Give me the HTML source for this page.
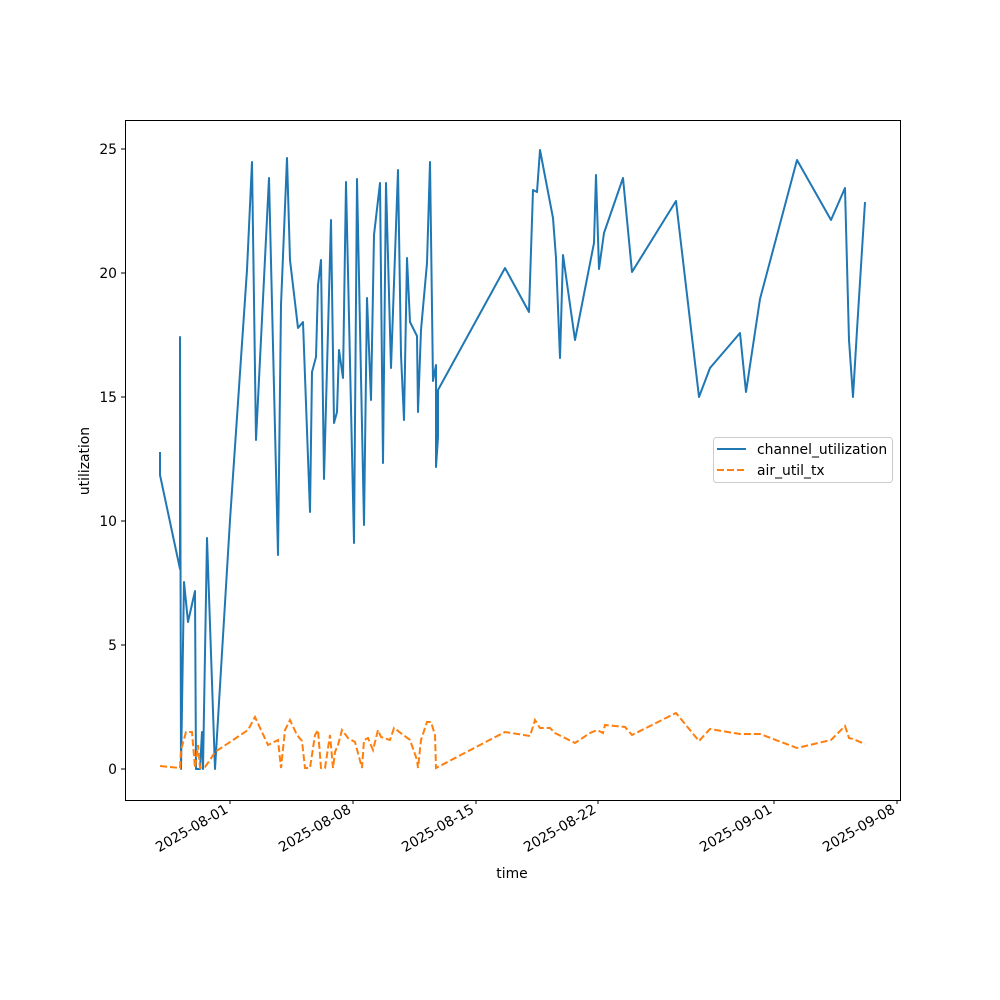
<!DOCTYPE html>
<html><head><style>body{margin:0;background:#fff}svg{display:block}text{font-family:"DejaVu Sans","Liberation Sans",sans-serif;font-size:13.9px;fill:#000}</style></head>
<body>
<svg width="1000" height="1000" xmlns="http://www.w3.org/2000/svg">
<rect width="1000" height="1000" fill="#fff"/>
<g stroke="#000" stroke-width="1">
<line x1="125" y1="769" x2="121" y2="769"/><line x1="125" y1="645" x2="121" y2="645"/><line x1="125" y1="521" x2="121" y2="521"/><line x1="125" y1="397" x2="121" y2="397"/><line x1="125" y1="273" x2="121" y2="273"/><line x1="125" y1="149" x2="121" y2="149"/>
<line x1="230" y1="800" x2="230" y2="804"/><line x1="353" y1="800" x2="353" y2="804"/><line x1="476" y1="800" x2="476" y2="804"/><line x1="598" y1="800" x2="598" y2="804"/><line x1="774" y1="800" x2="774" y2="804"/><line x1="897" y1="800" x2="897" y2="804"/>
</g>
<g text-anchor="end">
<text x="117" y="774">0</text><text x="117" y="650">5</text><text x="117" y="526">10</text><text x="117" y="402">15</text><text x="117" y="278">20</text><text x="117" y="154">25</text>
<text transform="translate(229,812) rotate(-30)">2025-08-01</text>
<text transform="translate(352,812) rotate(-30)">2025-08-08</text>
<text transform="translate(475,812) rotate(-30)">2025-08-15</text>
<text transform="translate(597,812) rotate(-30)">2025-08-22</text>
<text transform="translate(773,812) rotate(-30)">2025-09-01</text>
<text transform="translate(896,812) rotate(-30)">2025-09-08</text>
</g>
<text x="512" y="878" text-anchor="middle">time</text>
<text transform="translate(89,461) rotate(-90)" text-anchor="middle">utilization</text>
<polyline fill="none" stroke="#1f77b4" stroke-width="2" stroke-linejoin="round" points="160,452 160,475 180,569 180,337 181,769 184,582 188,622 195,591 196,769 200,769 202,732 203,769 207,538 215,769 230,520 247,270 252,162 256,440 269,178 278,555 281,305 287,158 290,260 298,328 303,322 310,512 312,372 316,357 318,285 321,260 324,479 331,220 334,423 337,412 339,350 343,378 346,182 354,543 357,179 364,525 367,298 371,400 374,235 380,183 383,463 386,183 391,368 398,170 401,355 404,420 407,258 410,322 417,336 418,412 421,330 427,263 430,162 433,381 436,365 436,467 438,437 438,390 505,268 529,312 533,190 537,192 540,150 553,218 556,258 560,358 563,255 575,340 594,243 596,175 599,269 604,233 623,178 632,272 676,201 699,397 710,368 740,333 746,392 760,299 797,160 831,220 845,188 849,340 853,397 857,330 865,202"/>
<polyline fill="none" stroke="#ff7f0e" stroke-width="2" stroke-dasharray="7,3" points="160,766 180,768 181,750 186,732 192,732 195,768 198,745 200,768 205,767 210,760 215,752 248,730 255,717 268,745 278,740 281,768 285,730 290,720 297,735 302,741 305,768 310,768 315,735 318,730 321,768 325,768 330,735 333,768 335,752 338,745 342,730 348,738 355,742 362,768 364,740 368,738 373,750 378,730 381,737 390,740 394,728 410,740 417,760 418,768 421,740 427,722 431,722 435,735 436,768 480,745 505,732 530,736 535,720 540,728 550,728 555,733 575,743 590,733 597,730 603,733 605,725 625,727 632,735 676,713 699,741 710,729 740,734 746,734 760,734 797,748 831,740 845,726 849,738 853,739 865,744"/>
<rect x="125.5" y="120.5" width="775" height="680" fill="none" stroke="#000" stroke-width="1"/>
<rect x="713.5" y="437.5" width="179" height="45" rx="3" fill="#fff" fill-opacity="0.8" stroke="#ccc"/>
<line x1="717" y1="449" x2="746" y2="449" stroke="#1f77b4" stroke-width="2"/>
<line x1="717" y1="470" x2="746" y2="470" stroke="#ff7f0e" stroke-width="2" stroke-dasharray="7,3"/>
<text x="757" y="454">channel_utilization</text>
<text x="757" y="475">air_util_tx</text>
</svg>
</body></html>
